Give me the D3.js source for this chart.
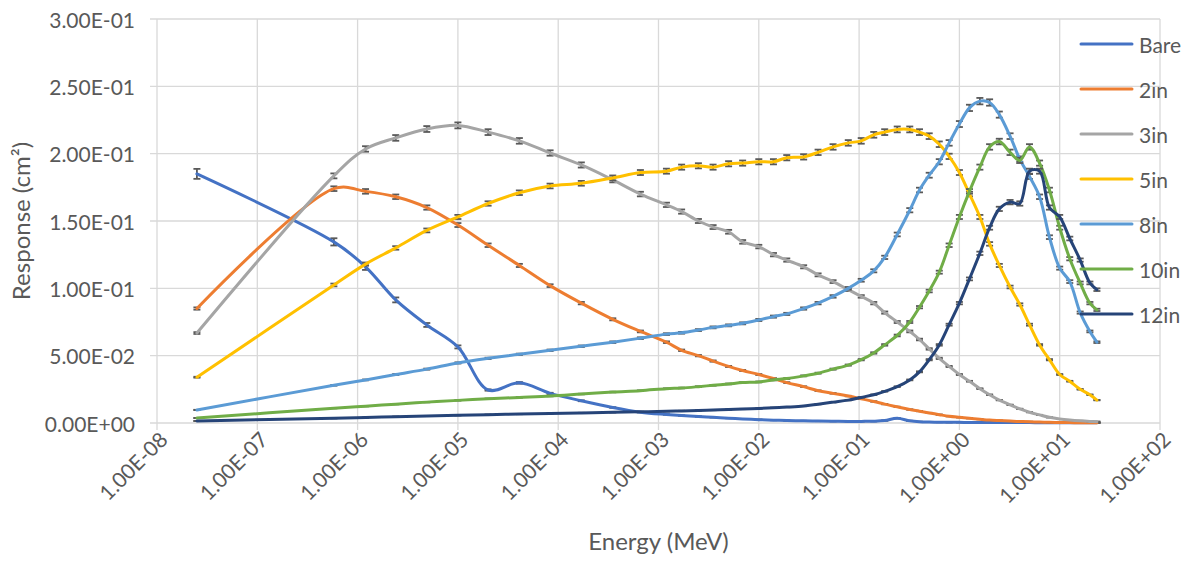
<!DOCTYPE html>
<html>
<head>
<meta charset="utf-8">
<script src="https://cdn.jsdelivr.net/npm/d3@7"></script>
<style>
  body { margin: 0; background: #fff; }
  svg text { font-family: Lato, "Liberation Sans", sans-serif; fill: #595959; }
</style>
</head>
<body>
<svg id="chart" width="1194" height="565"></svg>
<script>
// Response of the spheres vs neutron energy (MeV)
const energy = [2.5e-8, 5.8e-7, 1.2e-6, 2.4e-6, 4.9e-6, 1.0e-5, 2.0e-5, 4.1e-5, 8.3e-5, 1.7e-4,
  3.5e-4, 6.6e-4, 1.2e-3, 1.7e-3, 2.5e-3, 3.5e-3, 5.0e-3, 6.9e-3, 1.0e-2, 1.4e-2,
  1.9e-2, 2.8e-2, 3.9e-2, 5.5e-2, 7.8e-2, 0.105, 0.14, 0.18, 0.24, 0.32,
  0.40, 0.50, 0.63, 0.79, 1.0, 1.26, 1.6, 2.0, 2.5, 3.2,
  4.0, 5.0, 6.3, 7.9, 10, 12.6, 16, 20, 23.5];

const bare = [0.185, 0.1345, 0.116, 0.0914, 0.0728, 0.0565, 0.0245, 0.0298, 0.022, 0.0165,
  0.0115, 0.0080, 0.0063, 0.0055, 0.0048, 0.0042, 0.0036, 0.0030, 0.0025, 0.0021,
  0.0018, 0.0016, 0.0014, 0.0013, 0.0012, 0.0012, 0.0013, 0.0018, 0.0035, 0.0016,
  0.0009, 0.0007, 0.0006, 0.0005, 0.0005, 0.0004, 0.0004, 0.0004, 0.0003, 0.0003,
  0.0003, 0.0003, 0.0002, 0.0002, 0.0002, 0.0002, 0.0002, 0.0002, 0.0002];

const in2 = [0.085, 0.174, 0.172, 0.168, 0.160, 0.147, 0.132, 0.117, 0.102, 0.089,
  0.077, 0.068, 0.060, 0.054, 0.050, 0.046, 0.042, 0.039, 0.036, 0.033,
  0.030, 0.027, 0.024, 0.022, 0.020, 0.018, 0.016, 0.014, 0.012, 0.010,
  0.0088, 0.0075, 0.0062, 0.0050, 0.0042, 0.0035, 0.0028, 0.0022, 0.0018, 0.0014,
  0.0011, 0.0009, 0.0007, 0.0005, 0.0004, 0.0003, 0.0002, 0.0002, 0.0001];

const in3 = [0.0668, 0.1835, 0.2035, 0.2117, 0.2183, 0.221, 0.216, 0.2095, 0.2005, 0.1916,
  0.1805, 0.170, 0.162, 0.157, 0.150, 0.1455, 0.142, 0.1345, 0.131, 0.125,
  0.121, 0.116, 0.110, 0.105, 0.099, 0.094, 0.089, 0.082, 0.075, 0.068,
  0.062, 0.055, 0.048, 0.042, 0.036, 0.031, 0.0255, 0.021, 0.017, 0.0135,
  0.0105, 0.008, 0.006, 0.0042, 0.003, 0.0022, 0.0016, 0.0012, 0.001];

const in5 = [0.034, 0.1025, 0.118, 0.130, 0.143, 0.153, 0.163, 0.171, 0.176, 0.178,
  0.182, 0.186, 0.187, 0.190, 0.191, 0.190, 0.1925, 0.193, 0.194, 0.194,
  0.197, 0.1976, 0.201, 0.205, 0.208, 0.2095, 0.214, 0.216, 0.218, 0.218,
  0.216, 0.213, 0.207, 0.198, 0.186, 0.170, 0.153, 0.133, 0.117, 0.101,
  0.088, 0.073, 0.058, 0.047, 0.036, 0.031, 0.025, 0.021, 0.017];

const in8 = [0.0097, 0.028, 0.032, 0.036, 0.040, 0.0446, 0.048, 0.051, 0.054, 0.057,
  0.060, 0.063, 0.066, 0.067, 0.069, 0.071, 0.0725, 0.074, 0.0765, 0.079,
  0.081, 0.085, 0.089, 0.094, 0.100, 0.106, 0.113, 0.123, 0.140, 0.158,
  0.173, 0.184, 0.194, 0.208, 0.222, 0.234, 0.239, 0.238, 0.229, 0.213,
  0.196, 0.183, 0.168, 0.138, 0.115, 0.105, 0.082, 0.068, 0.060];

const in10 = [0.0037, 0.011, 0.0125, 0.014, 0.0155, 0.0168, 0.018, 0.019, 0.020, 0.0215,
  0.023, 0.024, 0.0255, 0.026, 0.027, 0.028, 0.029, 0.030, 0.0305, 0.032,
  0.033, 0.035, 0.037, 0.040, 0.043, 0.047, 0.052, 0.058, 0.065, 0.075,
  0.086, 0.098, 0.112, 0.132, 0.153, 0.172, 0.190, 0.205, 0.209, 0.201,
  0.195, 0.205, 0.193, 0.173, 0.145, 0.122, 0.104, 0.089, 0.084];

const in12 = [0.0015, 0.0035, 0.004, 0.0047, 0.0052, 0.0057, 0.0062, 0.0066, 0.0071, 0.0075,
  0.0079, 0.0083, 0.0087, 0.009, 0.0093, 0.0096, 0.010, 0.0104, 0.0108, 0.0113,
  0.0118, 0.0126, 0.014, 0.0155, 0.017, 0.019, 0.021, 0.0235, 0.027, 0.032,
  0.038, 0.047, 0.058, 0.073, 0.089, 0.107, 0.126, 0.145, 0.159, 0.164,
  0.163, 0.187, 0.187, 0.160, 0.153, 0.137, 0.121, 0.104, 0.099];

const seriesNames = ['Bare', '2in', '3in', '5in', '8in', '10in', '12in'];
const seriesValues = [bare, in2, in3, in5, in8, in10, in12];
const seriesColors = ['#4472C4', '#ED7D31', '#A5A5A5', '#FFC000', '#5B9BD5', '#70AD47', '#264478'];
// relative uncertainty used for the error bars
const relError = [0.02, 0.01, 0.01, 0.01, 0.01, 0.01, 0.01];

const xTicks = [1e-8, 1e-7, 1e-6, 1e-5, 1e-4, 1e-3, 1e-2, 1e-1, 1e0, 1e1, 1e2];
const yTicks = [0, 0.05, 0.10, 0.15, 0.20, 0.25, 0.30];

(function() {
    'use strict';

    const plot = { left: 157, right: 1160, top: 19, bottom: 423 };
    const svg = d3.select('#chart');

    const x = d3.scaleLog().domain([1e-8, 1e2]).range([plot.left, plot.right]);
    const y = d3.scaleLinear().domain([0, 0.3]).range([plot.bottom, plot.top]);

    // 1.00E-08 style labels
    function sci(v) {
        const parts = v.toExponential(2).split('e');
        const n = +parts[1];
        return parts[0] + 'E' + (n < 0 ? '-' : '+') + String(Math.abs(n)).padStart(2, '0');
    }

    // Gridlines
    const grid = svg.append('g').attr('stroke', '#d9d9d9').attr('stroke-width', 1.3);
    grid.selectAll('.vg').data(xTicks).enter().append('line')
        .attr('x1', d => x(d)).attr('x2', d => x(d))
        .attr('y1', plot.top).attr('y2', plot.bottom + 7);
    grid.selectAll('.hg').data(yTicks).enter().append('line')
        .attr('x1', plot.left - 7).attr('x2', plot.right)
        .attr('y1', d => y(d)).attr('y2', d => y(d));

    // Y tick labels
    svg.append('g').selectAll('text').data(yTicks).enter().append('text')
        .attr('x', 135).attr('y', d => y(d))
        .attr('text-anchor', 'end')
        .attr('dominant-baseline', 'central')
        .style('font-size', '21px')
        .text(sci);

    // X tick labels, rotated
    svg.append('g').selectAll('text').data(xTicks).enter().append('text')
        .attr('transform', d => `translate(${x(d) + 6},${plot.bottom + 12}) rotate(-45)`)
        .attr('text-anchor', 'end')
        .attr('dominant-baseline', 'central')
        .style('font-size', '21px')
        .text(sci);

    // Axis titles
    svg.append('text')
        .attr('x', (plot.left + plot.right) / 2).attr('y', 550)
        .attr('text-anchor', 'middle')
        .style('font-size', '24px')
        .text('Energy (MeV)');

    svg.append('text')
        .attr('transform', `translate(30,${(plot.top + plot.bottom) / 2}) rotate(-90)`)
        .attr('text-anchor', 'middle')
        .style('font-size', '24px')
        .text('Response (cm²)');

    // Series: smooth lines with small error bar caps
    const line = d3.line()
        .x(d => x(d[0]))
        .y(d => y(d[1]))
        .curve(d3.curveCatmullRom.alpha(0.5));

    seriesValues.forEach((vals, i) => {
        const pts = energy.map((e, k) => [e, vals[k]]);
        const sg = svg.append('g');

        // error bars sit under the line, only the caps show
        const eb = sg.append('g').attr('stroke', '#595959').attr('stroke-width', 1.8);
        pts.forEach(p => {
            const px = x(p[0]);
            const hi = y(p[1] * (1 + relError[i]));
            const lo = y(p[1] * (1 - relError[i]));
            eb.append('line').attr('x1', px).attr('x2', px).attr('y1', hi).attr('y2', lo);
            eb.append('line').attr('x1', px - 3.5).attr('x2', px + 3.5).attr('y1', hi).attr('y2', hi);
            eb.append('line').attr('x1', px - 3.5).attr('x2', px + 3.5).attr('y1', lo).attr('y2', lo);
        });

        sg.append('path')
            .attr('d', line(pts))
            .attr('fill', 'none')
            .attr('stroke', seriesColors[i])
            .attr('stroke-width', 3)
            .attr('stroke-linecap', 'round')
            .attr('stroke-linejoin', 'round');
    });

    // Legend
    const legend = svg.append('g');
    seriesNames.forEach((name, i) => {
        const ly = 44 + i * 45;
        legend.append('line')
            .attr('x1', 1081).attr('x2', 1132)
            .attr('y1', ly).attr('y2', ly)
            .attr('stroke', seriesColors[i])
            .attr('stroke-width', 3)
            .attr('stroke-linecap', 'round');
        legend.append('text')
            .attr('x', 1139).attr('y', ly)
            .attr('dominant-baseline', 'central')
            .style('font-size', '21px')
            .text(name);
    });
})();
</script>
</body>
</html>
